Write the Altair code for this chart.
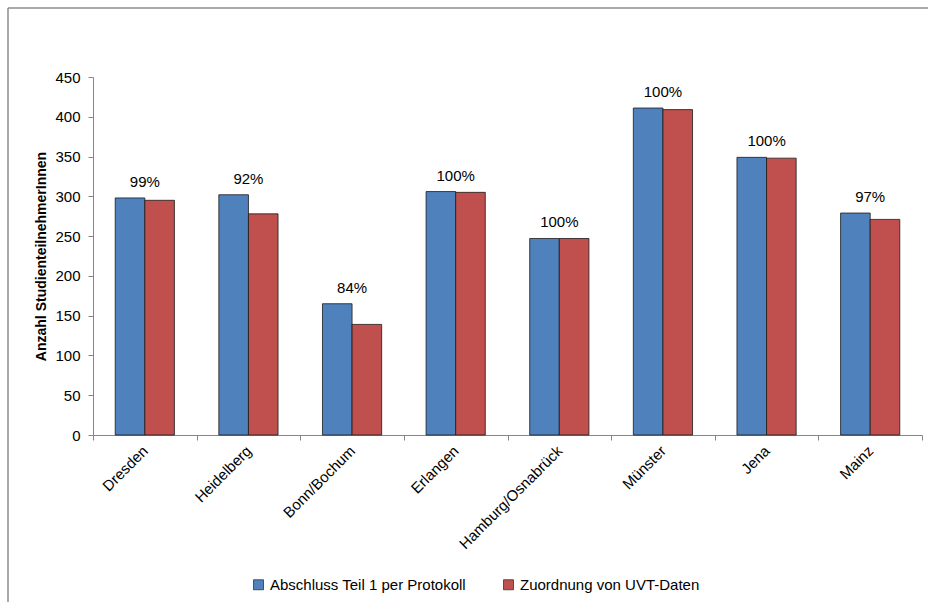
import altair as alt
import pandas as pd

# Study sites and participant counts per site
cities = ["Dresden", "Heidelberg", "Bonn/Bochum", "Erlangen",
          "Hamburg/Osnabrück", "Münster", "Jena", "Mainz"]
protokoll = [298, 302, 165, 306, 247, 411, 349, 279]
uvt = [295, 278, 139, 305, 247, 409, 348, 271]
anteil = ["99%", "92%", "84%", "100%", "100%", "100%", "100%", "97%"]

series = ["Abschluss Teil 1 per Protokoll", "Zuordnung von UVT-Daten"]
colors = ["#4F81BD", "#C0504D"]

AXIS_GRAY = "#868686"
FONT = "Liberation Sans"

rows = []
for c, a, b in zip(cities, protokoll, uvt):
    rows.append({"Standort": c, "Serie": series[0], "Anzahl": a})
    rows.append({"Standort": c, "Serie": series[1], "Anzahl": b})
long_df = pd.DataFrame(rows)

# Percentage labels sit above the taller bar of each pair
label_df = pd.DataFrame({
    "Standort": cities,
    "Anzahl": [max(a, b) for a, b in zip(protokoll, uvt)],
    "Anteil": anteil,
})

x_enc = alt.X(
    "Standort:N", sort=cities,
    scale=alt.Scale(paddingInner=0, paddingOuter=0),
    axis=alt.Axis(
        title=None, labelAngle=-45, labelAlign="right", labelBaseline="middle",
        labelFontSize=15, labelColor="#000000", labelPadding=8,
        tickBand="extent", tickSize=5, tickColor=AXIS_GRAY,
        domainColor=AXIS_GRAY, labelFont=FONT,
    ),
)
y_enc = alt.Y(
    "Anzahl:Q",
    scale=alt.Scale(domain=[0, 450], nice=False),
    axis=alt.Axis(
        values=list(range(0, 451, 50)), grid=False, tickSize=5,
        tickColor=AXIS_GRAY, domainColor=AXIS_GRAY, labelOverlap=False,
        labelFontSize=15, labelColor="#000000", labelPadding=8, labelFont=FONT,
        title="Anzahl StudienteilnehmerInnen", titleFontSize=14,
        titleFontWeight="bold", titleColor="#000000", titlePadding=6,
        titleFont=FONT,
    ),
)

bars = alt.Chart(long_df).mark_bar(stroke="#1a1a1a", strokeWidth=0.8).encode(
    x=x_enc,
    xOffset=alt.XOffset("Serie:N", sort=series,
                        scale=alt.Scale(paddingInner=0, paddingOuter=0.75)),
    y=y_enc,
    color=alt.Color(
        "Serie:N", sort=series,
        scale=alt.Scale(domain=series, range=colors),
        legend=alt.Legend(
            title=None, orient="none", legendX=158, legendY=500,
            direction="horizontal", symbolType="square", symbolSize=100,
            symbolStrokeColor="#333333", symbolStrokeWidth=0.8,
            labelFontSize=15, labelFont=FONT, labelColor="#000000",
            labelOffset=4, columnPadding=35, labelLimit=400,
        ),
    ),
)

labels = alt.Chart(label_df).mark_text(
    dy=-11, baseline="alphabetic", fontSize=15, font=FONT, color="#000000"
).encode(
    x=x_enc,
    y=y_enc,
    text="Anteil:N",
)

# Outer frame around the chart
frame_df = pd.DataFrame({"k": [0]})
frame_left = alt.Chart(frame_df).mark_rule(color="#8c8c8c", strokeWidth=1.5).encode(
    x=alt.value(-85), y=alt.value(-69), y2=alt.value(540)
)
frame_top = alt.Chart(frame_df).mark_rule(color="#8c8c8c", strokeWidth=1.5).encode(
    x=alt.value(-85), x2=alt.value(850), y=alt.value(-69)
)

chart = (
    alt.layer(bars, labels, frame_left, frame_top)
    .properties(
        width=829, height=358,
        autosize=alt.AutoSizeParams(type="none"),
        padding={"left": 93, "top": 77, "right": 6, "bottom": 167},
    )
    .configure(font=FONT)
    .configure_view(stroke=None)
)

chart.save("out.html", embed_options={"renderer": "svg", "actions": False})
